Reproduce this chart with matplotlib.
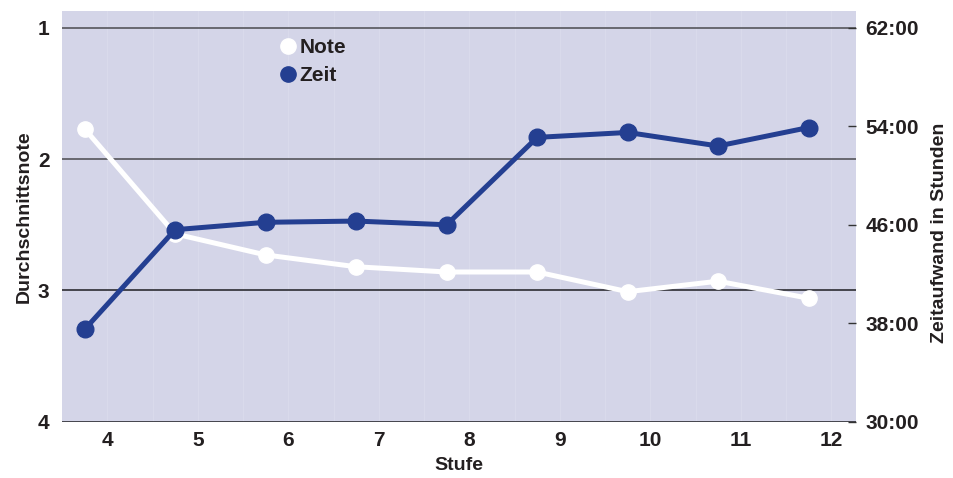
import numpy as np
import matplotlib
matplotlib.use("Agg")
import matplotlib.pyplot as plt
from matplotlib.lines import Line2D

plt.rcParams['font.family'] = ['Liberation Sans', 'DejaVu Sans']
plt.rcParams['font.weight'] = 'bold'

# data
stufe = [4, 5, 6, 7, 8, 9, 10, 11, 12]
note = [1.77, 2.57, 2.73, 2.82, 2.86, 2.86, 3.01, 2.93, 3.06]
zeit = [37.5, 45.6, 46.2, 46.3, 46.0, 53.1, 53.5, 52.4, 53.9]

note_ticks = [1, 2, 3, 4]
zeit_ticks = [30, 38, 46, 54, 62]

bg = '#D4D5E8'
blue = '#243F91'
txt = '#231F20'

fig = plt.figure(figsize=(9.54, 4.78), dpi=100)
ax1 = fig.add_axes([0.065, 0.1178, 0.832, 0.859])
ax1.set_facecolor(bg)
for s in ax1.spines.values():
    s.set_visible(False)

# faint separators between the category slots
for xv in np.arange(4.25, 12.3, 0.5):
    ax1.axvline(xv, color='#D9DAEB', lw=0.8, zorder=0.5)
for yv in note_ticks:
    ax1.axhline(yv, color='#4A4A4F' if yv < 3 else '#1E1E22', lw=1.1, zorder=1)

ax1.plot(stufe, note, color='white', lw=3.6, marker='o', markersize=11,
         zorder=3, solid_capstyle='round')
ax1.set_xlim(3.75, 12.52)
ax1.set_ylim(4, 0.873)
ax1.set_yticks(note_ticks)
ax1.set_yticklabels([str(v) for v in note_ticks])
ax1.set_xticks([s + 0.25 for s in stufe])
ax1.set_xticklabels([str(s) for s in stufe])
ax1.tick_params(axis='y', length=0, pad=9, labelsize=15, labelcolor=txt)
ax1.tick_params(axis='x', length=0, pad=7, labelsize=15, labelcolor=txt)
ax1.set_ylabel('Durchschnittsnote', fontsize=14, fontweight='bold', color=txt)
ax1.yaxis.set_label_coords(-0.037, 0.5)
ax1.set_xlabel('Stufe', fontsize=14, fontweight='bold', color=txt)
ax1.xaxis.set_label_coords(0.5, -0.085)

ax2 = ax1.twinx()
ax2.patch.set_visible(False)
for s in ax2.spines.values():
    s.set_visible(False)
ax2.plot(stufe, zeit, color=blue, lw=3.6, marker='o', markersize=12,
         zorder=3, solid_capstyle='round')
ax2.set_ylim(30, 63.36)
ax2.set_yticks(zeit_ticks)
ax2.set_yticklabels([f"{v}:00" for v in zeit_ticks])
ax2.tick_params(axis='y', direction='in', length=6, width=1, color='#333333',
                pad=7, labelsize=15, labelcolor=txt)
ax2.set_ylabel('Zeitaufwand in Stunden', fontsize=14, fontweight='bold', color=txt)
ax2.yaxis.set_label_coords(1.095, 0.46)

handles = [
    Line2D([], [], ls='none', marker='o', markersize=11, color='white'),
    Line2D([], [], ls='none', marker='o', markersize=11, color=blue),
]
leg = ax1.legend(handles, ['Note', 'Zeit'], loc='upper left',
                 bbox_to_anchor=(0.248, 0.98), frameon=False,
                 handletextpad=0.05, labelspacing=0.45, handlelength=1.0,
                 prop={'size': 15, 'weight': 'bold'})
for t in leg.get_texts():
    t.set_color(txt)

fig.savefig('out.png', dpi=100)
